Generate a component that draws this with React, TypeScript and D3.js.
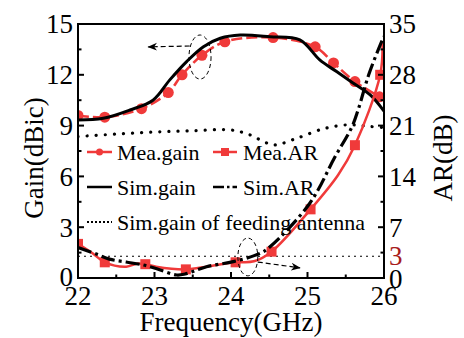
import React from "react";
import * as d3 from "d3";

const freqTicks = [22, 23, 24, 25, 26];
const gainTicks = [0, 3, 6, 9, 12, 15];
const arTicks = [0, 7, 14, 21, 28, 35];

const meaGainF = [22.0, 22.35, 22.83, 23.18, 23.36, 23.62, 23.92, 24.55, 25.1, 25.34, 25.62, 25.94];
const meaGain = [9.6, 9.5, 10.0, 10.95, 12.0, 13.15, 13.95, 14.2, 13.65, 12.7, 11.6, 10.7];

const simGainF = [22.0, 22.33, 22.68, 22.98, 23.2, 23.42, 23.64, 23.86, 24.12, 24.51, 24.9, 25.16, 25.38, 25.6, 25.82, 26.0];
const simGain = [9.33, 9.43, 9.92, 10.5, 11.7, 12.78, 13.66, 14.16, 14.35, 14.25, 14.06, 12.88, 12.19, 11.5, 10.81, 9.85];

const feedF = [22.0, 22.5, 23.0, 23.5, 24.0, 24.25, 24.45, 24.58, 24.86, 25.23, 25.55, 25.8, 26.0];
const feedGain = [8.35, 8.5, 8.62, 8.7, 8.74, 8.45, 8.0, 7.86, 8.25, 8.84, 9.05, 8.95, 8.88];

const meaArF = [22.0, 22.19, 22.35, 22.63, 22.78, 22.88, 23.02, 23.41, 23.7, 24.06, 24.3, 24.53, 25.04, 25.4, 25.62, 25.95, 25.98];
const meaAr = [4.7, 3.4, 2.16, 1.56, 2.0, 1.9, 1.56, 1.19, 1.6, 2.16, 2.3, 3.63, 9.46, 14.2, 18.3, 28.0, 32.5];
const meaArMarkF = [22.0, 22.35, 22.88, 23.41, 24.06, 24.53, 25.04, 25.62, 25.95];

const simArF = [22.0, 22.24, 22.41, 22.63, 22.85, 23.02, 23.29, 23.4, 23.68, 24.03, 24.38, 24.51, 25.03, 25.36, 25.58, 25.66, 25.8, 25.97, 26.0];
const simAr = [4.2, 3.3, 2.6, 2.2, 1.8, 1.3, 0.41, 0.55, 1.56, 2.25, 3.4, 4.3, 10.3, 16.7, 20.8, 23.1, 28.0, 32.6, 33.3];

const arThreshold = 3;

const RED = "#f03a3a";
const FONT = "'Liberation Serif', 'Times New Roman', serif";

export default function App() {
  const L = 78, R = 384, T = 24, B = 278;
  const x = d3.scaleLinear().domain([22, 26]).range([L, R]);
  const yG = d3.scaleLinear().domain([0, 15]).range([B, T]);
  const yA = d3.scaleLinear().domain([0, 35]).range([B, T]);

  const lineG = (fs: number[], vs: number[], curve: any) =>
    d3.line<number>().x((_, i) => x(fs[i])).y((v) => yG(v)).curve(curve)(vs) || "";
  const lineA = (fs: number[], vs: number[], curve: any) =>
    d3.line<number>().x((_, i) => x(fs[i])).y((v) => yA(v)).curve(curve)(vs) || "";

  const gainMinor = d3.range(1.5, 15, 3);
  const arMinor = d3.range(3.5, 35, 7);
  const fMinor = [22.5, 23.5, 24.5, 25.5];

  const legendRows = [160, 195, 230];

  return (
    <svg width={464} height={338} style={{ position: "absolute", left: 0, top: 0 }} fontFamily={FONT}>
      <defs>
        <marker id="arr" viewBox="0 0 10 10" refX="9" refY="5" markerWidth="8" markerHeight="8" orient="auto">
          <path d="M0,1 L10,5 L0,9 L3,5 z" fill="#000" />
        </marker>
        <clipPath id="clip">
          <rect x={L} y={T} width={R - L} height={B - T} />
        </clipPath>
      </defs>
      <rect width={464} height={338} fill="#fff" />

      {/* AR = 3 reference */}
      <line x1={L} x2={R} y1={yA(arThreshold)} y2={yA(arThreshold)} stroke="#000" strokeWidth={1.2} strokeDasharray="2,4" />

      <g clipPath="url(#clip)">
        <path d={lineG(feedF, feedGain, d3.curveCatmullRom)} fill="none" stroke="#000" strokeWidth={3.2} strokeDasharray="0.1,9" strokeLinecap="round" />
        <path d={lineG(meaGainF, meaGain, d3.curveCatmullRom)} fill="none" stroke={RED} strokeWidth={2.6} strokeDasharray="11,4" />
        {meaGainF.map((f, i) => (
          <circle key={i} cx={x(f)} cy={yG(meaGain[i])} r={5.5} fill={RED} />
        ))}
        <path d={lineG(simGainF, simGain, d3.curveCatmullRom)} fill="none" stroke="#000" strokeWidth={3} />
        <path d={lineA(meaArF, meaAr, d3.curveCatmullRom)} fill="none" stroke={RED} strokeWidth={2.5} />
        {meaArMarkF.map((f, i) => {
          const v = meaAr[meaArF.indexOf(f)];
          return <rect key={i} x={x(f) - 5} y={yA(v) - 5} width={10} height={10} fill={RED} />;
        })}
        <path d={lineA(simArF, simAr, d3.curveCatmullRom)} fill="none" stroke="#000" strokeWidth={3.2} strokeDasharray="14,4,3,4" />
      </g>

      {/* annotations */}
      <ellipse cx={x(23.595)} cy={yG(13.05)} rx={x(22.144) - x(22)} ry={yG(0) - yG(1.3)} fill="none" stroke="#000" strokeWidth={1} strokeDasharray="4,3" />
      <line x1={x(23.46)} y1={yG(13.7)} x2={x(22.92)} y2={yG(13.65)} stroke="#000" strokeWidth={1.2} strokeDasharray="5,3" markerEnd="url(#arr)" />
      <ellipse cx={x(24.22)} cy={yA(2.9)} rx={x(22.13) - x(22)} ry={yA(0) - yA(2.6)} fill="none" stroke="#000" strokeWidth={1} strokeDasharray="4,3" />
      <line x1={x(24.35)} y1={yA(2.2)} x2={x(24.9)} y2={yA(1.4)} stroke="#000" strokeWidth={1.2} strokeDasharray="5,3" markerEnd="url(#arr)" />

      {/* frame */}
      <rect x={L} y={T} width={R - L} height={B - T} fill="none" stroke="#000" strokeWidth={2} />

      {/* ticks */}
      {gainTicks.map((t) => (
        <line key={"gt" + t} x1={L} x2={L + 6} y1={yG(t)} y2={yG(t)} stroke="#000" strokeWidth={2} />
      ))}
      {gainMinor.map((t) => (
        <line key={"gm" + t} x1={L} x2={L + 3.5} y1={yG(t)} y2={yG(t)} stroke="#000" strokeWidth={2} />
      ))}
      {arTicks.map((t) => (
        <line key={"at" + t} x1={R} x2={R - 6} y1={yA(t)} y2={yA(t)} stroke="#000" strokeWidth={2} />
      ))}
      {arMinor.map((t) => (
        <line key={"am" + t} x1={R} x2={R - 3.5} y1={yA(t)} y2={yA(t)} stroke="#000" strokeWidth={2} />
      ))}
      {freqTicks.map((t) => (
        <line key={"ft" + t} x1={x(t)} x2={x(t)} y1={B} y2={B - 6} stroke="#000" strokeWidth={2} />
      ))}
      {fMinor.map((t) => (
        <line key={"fm" + t} x1={x(t)} x2={x(t)} y1={B} y2={B - 3.5} stroke="#000" strokeWidth={2} />
      ))}

      {/* tick labels */}
      {gainTicks.map((t) => (
        <text key={"gl" + t} x={L - 5} y={yG(t)} dy={t === 0 ? "0.3em" : "0.35em"} textAnchor="end" fontSize={27} fill="#000">{t}</text>
      ))}
      {arTicks.map((t) => (
        <text key={"al" + t} x={R + 5} y={yA(t)} dy={t === 0 ? "0.38em" : "0.35em"} textAnchor="start" fontSize={27} fill="#000">{t}</text>
      ))}
      <text x={R + 5} y={yA(arThreshold)} dy="0.33em" fontSize={27} fill="#a81c1c">{arThreshold}</text>
      {freqTicks.map((t) => (
        <text key={"fl" + t} x={x(t)} y={305} textAnchor="middle" fontSize={27} fill="#000">{t}</text>
      ))}

      {/* axis titles */}
      <text x={(L + R) / 2} y={331} textAnchor="middle" fontSize={27} fill="#000">Frequency(GHz)</text>
      <text transform={`translate(43, ${(T + B) / 2 + 7}) rotate(-90)`} textAnchor="middle" fontSize={27} fill="#000">Gain(dBic)</text>
      <text transform={`translate(452, ${(T + B) / 2 + 7}) rotate(-90)`} textAnchor="middle" fontSize={27} fill="#000">AR(dB)</text>

      {/* legend */}
      <line x1={87} x2={112} y1={legendRows[0] - 8} y2={legendRows[0] - 8} stroke={RED} strokeWidth={2.5} />
      <circle cx={99.5} cy={legendRows[0] - 8} r={3.5} fill={RED} />
      <text x={117} y={legendRows[0]} fontSize={22}>Mea.gain</text>
      <line x1={213} x2={237} y1={legendRows[0] - 8} y2={legendRows[0] - 8} stroke={RED} strokeWidth={2.5} />
      <rect x={221} y={legendRows[0] - 12} width={8} height={8} fill={RED} />
      <text x={243} y={legendRows[0]} fontSize={22}>Mea.AR</text>

      <line x1={87} x2={112} y1={legendRows[1] - 8} y2={legendRows[1] - 8} stroke="#000" strokeWidth={2.5} />
      <text x={117} y={legendRows[1]} fontSize={22}>Sim.gain</text>
      <line x1={213} x2={237} y1={legendRows[1] - 8} y2={legendRows[1] - 8} stroke="#000" strokeWidth={2.5} strokeDasharray="11,3,2.5,3" />
      <text x={243} y={legendRows[1]} fontSize={22}>Sim.AR</text>

      <line x1={87} x2={112} y1={legendRows[2] - 8} y2={legendRows[2] - 8} stroke="#000" strokeWidth={2} strokeDasharray="2,2" />
      <text x={117} y={legendRows[2]} fontSize={22}>Sim.gain of feeding antenna</text>
    </svg>
  );
}
